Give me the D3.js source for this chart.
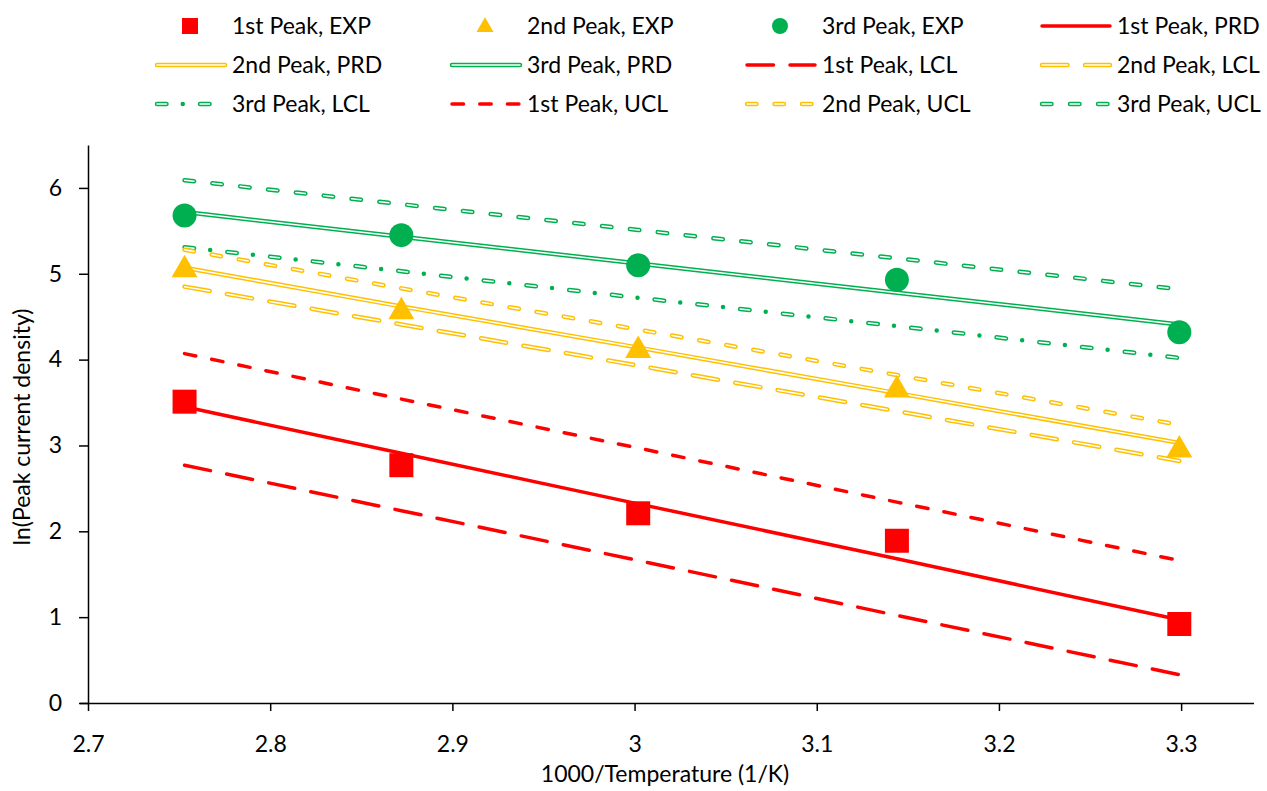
<!DOCTYPE html>
<html>
<head>
<meta charset="utf-8">
<script src="https://cdn.jsdelivr.net/npm/d3@7"></script>
<style>
  body { margin: 0; background: #fff; }
  text { font-family: Lato, "Open Sans", sans-serif; fill: #000; }
</style>
</head>
<body>
<div id="chart"></div>
<script>
// 1000/T
const invTemp = [2.753, 2.872, 3.002, 3.144, 3.299];

const exp1 = [3.51, 2.77, 2.21, 1.89, 0.92];
const exp2 = [5.07, 4.58, 4.13, 3.67, 2.97];
const exp3 = [5.68, 5.45, 5.10, 4.93, 4.32];

const prd1 = [3.45, 2.91, 2.32, 1.68, 0.97];
const prd2 = [5.07, 4.62, 4.14, 3.61, 3.03];
const prd3 = [5.72, 5.43, 5.12, 4.78, 4.41];

const lcl1 = [2.77, 2.24, 1.66, 1.02, 0.33];
const lcl2 = [4.85, 4.41, 3.93, 3.40, 2.82];
const lcl3 = [5.31, 5.03, 4.72, 4.39, 4.02];

const ucl1 = [4.07, 3.54, 2.97, 2.34, 1.66];
const ucl2 = [5.28, 4.83, 4.35, 3.82, 3.24];
const ucl3 = [6.09, 5.81, 5.51, 5.18, 4.82];

const xTicks = [2.7, 2.8, 2.9, 3.0, 3.1, 3.2, 3.3];
const yTicks = [0, 1, 2, 3, 4, 5, 6];

const RED = '#ff0000', GOLD = '#ffc000', GREEN = '#00b050';
const FONT = '23px';

// legend order (row by row)
const series = [
  { name: '1st Peak, EXP', type: 'marker', shape: 'square', color: RED, values: exp1 },
  { name: '2nd Peak, EXP', type: 'marker', shape: 'triangle', color: GOLD, values: exp2 },
  { name: '3rd Peak, EXP', type: 'marker', shape: 'circle', color: GREEN, values: exp3 },
  { name: '1st Peak, PRD', type: 'line', color: RED, values: prd1, dash: null },
  { name: '2nd Peak, PRD', type: 'double', color: GOLD, values: prd2, dash: null },
  { name: '3rd Peak, PRD', type: 'double', color: GREEN, values: prd3, dash: null },
  { name: '1st Peak, LCL', type: 'line', color: RED, values: lcl1, dash: '26.5 16.5' },
  { name: '2nd Peak, LCL', type: 'double', color: GOLD, values: lcl2, dash: '25.5 17.5' },
  { name: '3rd Peak, LCL', type: 'double', color: GREEN, values: lcl3, dash: '9.5 16.25 0 17.25', innerDash: '9.5 33.5' },
  { name: '1st Peak, UCL', type: 'line', color: RED, values: ucl1, dash: '11.5 16.2' },
  { name: '2nd Peak, UCL', type: 'double', color: GOLD, values: ucl2, dash: '9.5 18' },
  { name: '3rd Peak, UCL', type: 'double', color: GREEN, values: ucl3, dash: '9.5 18.5' }
];

const width = 1267;
const height = 791;
const margin = { top: 145, right: 13, bottom: 88, left: 88 };

const svg = d3.select('#chart')
  .append('svg')
  .attr('width', width)
  .attr('height', height);

const x = d3.scaleLinear()
  .domain([2.7, 3.34])
  .range([margin.left, width - margin.right]);

const y = d3.scaleLinear()
  .domain([0, 6.5])
  .range([height - margin.bottom, margin.top]);

const line = d3.line()
  .x((d, i) => x(invTemp[i]))
  .y(d => y(d));

function drawStroke(g, s, pathData) {
  const w = s.type === 'double' ? 4.5 : 3.5;
  g.append('path')
    .attr('d', pathData)
    .attr('fill', 'none')
    .attr('stroke', s.color)
    .attr('stroke-width', w)
    .attr('stroke-linecap', 'round')
    .attr('stroke-dasharray', s.dash);
  if (s.type === 'double') {
    g.append('path')
      .attr('d', pathData)
      .attr('fill', 'none')
      .attr('stroke', '#fff')
      .attr('stroke-width', 1.5)
      .attr('stroke-linecap', 'round')
      .attr('stroke-dasharray', s.innerDash || s.dash);
  }
}

const symbols = { square: d3.symbolSquare, triangle: d3.symbolTriangle, circle: d3.symbolCircle };
function symbolPath(shape, size) {
  // size = approx width in px
  let area = size * size;
  if (shape === 'circle') area = Math.PI * size * size / 4;
  if (shape === 'triangle') area = size * size * Math.sqrt(3) / 4;
  return d3.symbol().type(symbols[shape]).size(area)();
}

// lines
const linesG = svg.append('g');
series.filter(s => s.type !== 'marker').forEach(s => {
  drawStroke(linesG.append('g'), s, line(s.values));
});

// markers
const markG = svg.append('g');
series.filter(s => s.type === 'marker').forEach(s => {
  markG.append('g')
    .selectAll('path')
    .data(s.values)
    .join('path')
      .attr('transform', (d, i) => `translate(${x(invTemp[i])},${y(d) + (s.shape === 'triangle' ? 2 : 0)})`)
      .attr('d', symbolPath(s.shape, s.shape === 'triangle' ? 26 : 24))
      .attr('fill', s.color);
});

// axes
function xAxis(g) {
  g.attr('transform', `translate(0,${height - margin.bottom})`)
    .call(d3.axisBottom(x).tickValues(xTicks).tickFormat(d3.format('~g')).tickSize(8).tickSizeOuter(0))
    .call(g => g.select('.domain').attr('stroke', '#000').attr('stroke-width', 1.5).attr('d', `M${margin.left - 8},0.5H${width - margin.right}`))
    .call(g => g.selectAll('.tick line').attr('stroke', '#000').attr('stroke-width', 1.5))
    .call(g => g.selectAll('.tick text').attr('font-size', FONT).attr('y', 49).attr('dy', null));
}

function yAxis(g) {
  g.attr('transform', `translate(${margin.left},0)`)
    .call(d3.axisLeft(y).tickValues(yTicks).tickFormat(d3.format('d')).tickSize(9).tickSizeOuter(0))
    .call(g => g.select('.domain').attr('stroke', '#000').attr('stroke-width', 1.5))
    .call(g => g.selectAll('.tick line').attr('stroke', '#000').attr('stroke-width', 1.5))
    .call(g => g.selectAll('.tick text').attr('font-size', FONT).attr('x', -26));
}

svg.append('g').call(xAxis);
svg.append('g').call(yAxis);
svg.selectAll('.tick text').attr('font-family', 'Lato, sans-serif').attr('fill', '#000');

svg.append('text')
  .attr('x', 665)
  .attr('y', 782)
  .attr('font-size', FONT)
  .attr('text-anchor', 'middle')
  .text('1000/Temperature (1/K)');

svg.append('text')
  .attr('transform', 'translate(30,427) rotate(-90)')
  .attr('font-size', FONT)
  .attr('text-anchor', 'middle')
  .text('ln(Peak current density)');

// legend
const legendCols = [155, 450, 745, 1040];
const legendRows = [26, 65, 104];
const legend = svg.append('g');
series.forEach((s, i) => {
  const cx = legendCols[i % 4];
  const cy = legendRows[Math.floor(i / 4)];
  const g = legend.append('g');
  if (s.type === 'marker') {
    g.append('path')
      .attr('transform', `translate(${cx + 35},${cy + (s.shape === 'triangle' ? 1 : 0)})`)
      .attr('d', symbolPath(s.shape, s.shape === 'triangle' ? 17 : 16))
      .attr('fill', s.color);
  } else {
    drawStroke(g, s, `M${cx + 2},${cy}H${cx + 70}`);
  }
  g.append('text')
    .attr('x', cx + 77)
    .attr('y', cy)
    .attr('dy', '0.35em')
    .attr('font-size', FONT)
    .text(s.name);
});
</script>
</body>
</html>
